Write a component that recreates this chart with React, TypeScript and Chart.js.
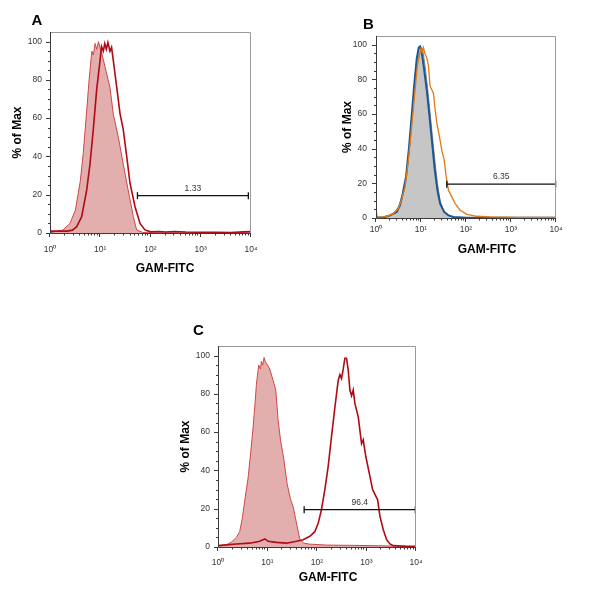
import React, { useEffect, useRef } from 'react';
import { Chart, registerables } from 'chart.js';

Chart.register(...registerables);

// ---------- shared axis data ----------
const X_TICKS = [1, 10, 100, 1000, 10000];
const X_TICK_LABELS = ['10⁰', '10¹', '10²', '10³', '10⁴'];
const Y_TICKS = [0, 20, 40, 60, 80, 100];
const Y_MAX = 105;
const X_TITLE = 'GAM-FITC';
const Y_TITLE = '% of Max';
const GATE_Y = 19.5;

// ---------- Panel A ----------
const A_FILLED_X = [1, 1.8, 2.5, 3.2, 4.0, 4.6, 5.3, 6.0, 6.8, 7.3, 7.9, 8.5, 9.2, 9.9, 10.7, 12.4, 15.6, 18.2, 22.9, 28.7, 36.2, 45.5, 53, 70, 100, 1000, 10000];
const A_FILLED_Y = [0.2, 1.5, 5, 12, 27, 42, 62, 80, 95, 93, 99, 96, 100, 97, 94, 87, 76, 62, 50, 36, 22, 8.5, 1.6, 0.3, 0.1, 0.1, 0.1];
const A_OPEN_X = [1, 1.5, 2.2, 2.8, 3.4, 4.27, 5.38, 6.25, 7.27, 8.5, 9.89, 10.6, 11.5, 12.3, 13.2, 14.2, 15.6, 16.8, 18.2, 21.2, 24.7, 28.7, 33.6, 39.1, 49.2, 61.8, 77.6, 100, 150, 200, 300, 500, 1000, 2000, 4000, 7000, 10000];
const A_OPEN_Y = [1, 1, 1, 1.5, 3.3, 8.5, 22.5, 36, 54, 75, 90, 97.4, 95, 99, 96, 99.5, 95, 97, 90, 76.5, 62.5, 54, 40, 26, 13.7, 5, 1.6, 0.6, 0.8, 0.5, 0.8, 0.5, 0.4, 0.4, 0.3, 0.6, 0.8];
const A_GATE_X = [55, 8850];
const A_GATE_LABEL = '1.33';

// ---------- Panel B ----------
const B_GRAY_X = [1, 1.3, 1.73, 2.43, 3.14, 3.73, 4.42, 4.99, 5.71, 6.55, 7.38, 8.32, 9.22, 10.05, 10.9, 12.3, 13.9, 15.9, 18.3, 20.6, 23.2, 26.6, 31.6, 40.8, 52.7, 80, 200, 1000, 10000];
const B_GRAY_Y = [0, 0.2, 0.6, 2.5, 6.4, 12, 18, 30, 43, 61, 78, 90, 96, 98.4, 97.5, 88, 76, 61, 45, 32, 20, 10, 4.5, 1.5, 0.4, 0.1, 0, 0, 0];
const B_BLUE_X = [1, 1.5, 2.05, 2.89, 3.42, 3.92, 4.66, 5.34, 6.12, 7.02, 8.04, 8.91, 9.55, 10.4, 11.7, 13.4, 15.4, 17.7, 20.2, 23.2, 26.6, 32.7, 40.8, 52.7, 104, 300, 10000];
const B_BLUE_Y = [0.3, 0.5, 1.5, 3.5, 7.4, 14, 24, 39, 57, 76, 92, 98.4, 99, 95.5, 86, 74, 59, 43, 28, 16, 8.3, 3.5, 1.5, 0.6, 0.2, 0.1, 0.1];
const B_ORANGE_X = [1, 1.06, 1.23, 1.73, 2.43, 3.14, 3.73, 4.42, 5.25, 6.22, 7.38, 8.32, 9.22, 9.87, 10.6, 11.3, 12.3, 13.4, 14.6, 15.9, 17.4, 18.9, 20.6, 22.4, 25.7, 29, 32.7, 36.2, 40.8, 48.4, 57.4, 74.2, 104, 174, 345, 1355, 10000];
const B_ORANGE_Y = [4.8, 0.6, 0.5, 1, 2.5, 5.4, 11, 18, 33.5, 53, 74, 88, 93.6, 97.5, 95.5, 98.4, 94.6, 92.6, 88, 76, 74, 72, 62.6, 55, 47, 39, 33.5, 24, 16, 12.2, 8.3, 4.5, 2.1, 1, 0.6, 0.4, 0.4];
const B_GATE_X = [37.4, 9800];
const B_GATE_LABEL = '6.35';

// ---------- Panel C ----------
const C_FILLED_X = [1, 1.48, 1.86, 2.35, 2.74, 3.1, 3.46, 4.05, 4.6, 5.1, 5.6, 5.97, 6.65, 7.2, 7.53, 8.0, 8.53, 9.0, 9.51, 11.1, 13.0, 14.7, 16.4, 18.3, 21.3, 24.9, 29.1, 33, 38.5, 45, 54.2, 71.6, 155, 740, 3470, 10000];
const C_FILLED_Y = [0.7, 1.2, 2.5, 5, 8, 15, 24, 36, 50, 62, 75, 85, 95, 93, 97, 95, 99, 97, 96, 93, 87, 82, 66, 56, 46, 33, 25, 21, 12.5, 4, 2, 1.5, 1, 0.8, 0.5, 0.5];
const C_OPEN_X = [1, 2.35, 4.37, 6.97, 8.8, 10.3, 15.1, 24.1, 38.5, 52.5, 71.6, 90.4, 106, 123, 144, 168, 197, 230, 268, 290, 313, 339, 366, 395, 427, 462, 499, 540, 583, 681, 795, 859, 973, 1137, 1328, 1552, 1676, 1870, 2184, 2549, 2977, 3477, 6000, 10000];
const C_OPEN_Y = [0.7, 1.6, 2, 3, 4.2, 3, 2.4, 2, 3, 3.8, 5.6, 8, 12.5, 19.5, 30, 42, 58, 73, 87, 90, 88, 93, 98.6, 98.6, 92.5, 82, 79, 82, 75, 68, 54, 56, 47, 38.6, 30, 26.4, 24.7, 16, 9, 3.8, 1.6, 0.7, 0.4, 0.3];
const C_GATE_X = [55, 9700];
const C_GATE_LABEL = '96.4';

// ---------- styling ----------
const FONT = 'Arial, "Liberation Sans", Helvetica, sans-serif';
const DARK_RED = '#B00A14';
const PINK_EDGE = '#CF4747';
const PINK_FILL = '#E3AEAE';

const pts = (xs: number[], ys: number[]) => xs.map((x, i) => ({ x, y: ys[i] }));

const gateDataset = (gx: number[]) => ({
  data: pts(gx, [GATE_Y, GATE_Y]),
  borderColor: '#111',
  borderWidth: 1.3,
  pointStyle: 'line',
  pointRotation: 90,
  pointRadius: 3.5,
  pointBorderWidth: 1.3,
  pointBorderColor: '#111',
  fill: false,
  clip: false,
});

const lineDataset = (xs: number[], ys: number[], color: string, width: number) => ({
  data: pts(xs, ys),
  borderColor: color,
  borderWidth: width,
  pointRadius: 0,
  fill: false,
});

const filledDataset = (xs: number[], ys: number[], edge: string, fillColor: string) => ({
  data: pts(xs, ys),
  borderColor: edge,
  borderWidth: 1,
  backgroundColor: fillColor,
  pointRadius: 0,
  fill: 'origin',
});

type Panel = {
  key: string;
  letter: string;
  left: number; top: number; w: number; h: number;
  L: number; R: number; T: number; B: number; // chart area in page coords
  titlePad: number;
  xLabelPad: number;
  yLabelPad: number;
  letterPos: [number, number];
  xTitlePos: [number, number];
  gateX: number[];
  gateLabel: string;
  datasets: any[];
};

const PANELS: Panel[] = [
  {
    key: 'A', letter: 'A', left: 0, top: 0, w: 275, h: 285,
    L: 50, R: 251, T: 32, B: 233, titlePad: 0, xLabelPad: 11.5, yLabelPad: 8,
    letterPos: [31.5, 25], xTitlePos: [165, 272],
    gateX: A_GATE_X, gateLabel: A_GATE_LABEL,
    datasets: [
      gateDataset(A_GATE_X),
      lineDataset(A_OPEN_X, A_OPEN_Y, DARK_RED, 1.6),
      filledDataset(A_FILLED_X, A_FILLED_Y, PINK_EDGE, PINK_FILL),
    ],
  },
  {
    key: 'B', letter: 'B', left: 300, top: 0, w: 280, h: 270,
    L: 376, R: 556, T: 36, B: 218, titlePad: 4, xLabelPad: 7, yLabelPad: 9,
    letterPos: [363, 29.3], xTitlePos: [487, 253],
    gateX: B_GATE_X, gateLabel: B_GATE_LABEL,
    datasets: [
      gateDataset(B_GATE_X),
      lineDataset(B_ORANGE_X, B_ORANGE_Y, '#E27A12', 1.3),
      lineDataset(B_BLUE_X, B_BLUE_Y, '#1D5696', 2),
      filledDataset(B_GRAY_X, B_GRAY_Y, '#8C8C8C', '#C6C6C6'),
    ],
  },
  {
    key: 'C', letter: 'C', left: 160, top: 310, w: 280, h: 280,
    L: 218, R: 416, T: 346, B: 547, titlePad: 0, xLabelPad: 10.5, yLabelPad: 8,
    letterPos: [193, 335], xTitlePos: [328, 580.7],
    gateX: C_GATE_X, gateLabel: C_GATE_LABEL,
    datasets: [
      gateDataset(C_GATE_X),
      lineDataset(C_OPEN_X, C_OPEN_Y, DARK_RED, 1.6),
      filledDataset(C_FILLED_X, C_FILLED_Y, PINK_EDGE, PINK_FILL),
    ],
  },
];

const Y_AXIS_W = 40;

function overlayPlugin(p: Panel) {
  return {
    id: 'overlay' + p.key,
    afterDraw(chart: any) {
      const ctx = chart.ctx as CanvasRenderingContext2D;
      const { left: L, right: R, top: T, bottom: B } = chart.chartArea;
      const xs = chart.scales.x;
      const ys = chart.scales.y;
      ctx.save();
      ctx.lineWidth = 1;
      // frame: light top/right, dark left/bottom
      ctx.strokeStyle = '#9a9a9a';
      ctx.beginPath();
      ctx.moveTo(L, T + 0.5);
      ctx.lineTo(R - 0.5, T + 0.5);
      ctx.lineTo(R - 0.5, B);
      ctx.stroke();
      ctx.strokeStyle = '#3a3a3a';
      ctx.beginPath();
      ctx.moveTo(L + 0.5, T);
      ctx.lineTo(L + 0.5, B + 0.5);
      ctx.lineTo(R, B + 0.5);
      ctx.stroke();
      // y ticks (major every 20, minor every 5)
      ctx.beginPath();
      for (let v = 0; v <= 100; v += 5) {
        const y = Math.round(ys.getPixelForValue(v)) + 0.5;
        const len = v % 20 === 0 ? 4 : 2;
        ctx.moveTo(L - len, y);
        ctx.lineTo(L, y);
      }
      // x ticks (major decades, minor 2..9)
      for (let d = 0; d <= 4; d++) {
        for (let k = 1; k <= 9; k++) {
          const v = k * Math.pow(10, d);
          if (v > 10000) break;
          const x = Math.round(xs.getPixelForValue(v)) - 0.5;
          const len = k === 1 ? 4 : 2.5;
          ctx.moveTo(x, B);
          ctx.lineTo(x, B + len);
        }
      }
      ctx.stroke();

      // gate label
      const gx = (xs.getPixelForValue(p.gateX[0]) + xs.getPixelForValue(p.gateX[1])) / 2;
      const gy = ys.getPixelForValue(GATE_Y);
      ctx.fillStyle = '#333';
      ctx.font = `8.5px ${FONT}`;
      ctx.textAlign = 'center';
      ctx.textBaseline = 'alphabetic';
      ctx.fillText(p.gateLabel, gx, gy - 5);

      // x axis title
      ctx.fillStyle = '#000';
      ctx.font = `bold 12px ${FONT}`;
      ctx.fillText(X_TITLE, p.xTitlePos[0] - p.left, p.xTitlePos[1] - p.top);

      // panel letter
      ctx.textAlign = 'left';
      ctx.font = `bold 15px ${FONT}`;
      ctx.fillText(p.letter, p.letterPos[0] - p.left, p.letterPos[1] - p.top);
      ctx.restore();
    },
  };
}

function buildConfig(p: Panel): any {
  const padLeft = p.L - p.left - Y_AXIS_W;
  const padTop = p.T - p.top;
  const padRight = p.left + p.w - p.R;
  const xHeight = p.top + p.h - p.B;
  return {
    type: 'line',
    data: { datasets: p.datasets },
    options: {
      animation: false,
      responsive: false,
      maintainAspectRatio: false,
      events: [],
      layout: { padding: { left: padLeft, top: padTop, right: padRight, bottom: 0 } },
      plugins: { legend: { display: false }, tooltip: { enabled: false } },
      elements: { line: { tension: 0 }, point: { radius: 0 } },
      scales: {
        x: {
          type: 'logarithmic',
          min: 1,
          max: 10000,
          afterBuildTicks: (s: any) => { s.ticks = X_TICKS.map((v) => ({ value: v, major: true })); },
          afterFit: (s: any) => { s.height = xHeight; },
          grid: { display: false, drawTicks: false },
          border: { display: false },
          ticks: {
            autoSkip: false,
            maxRotation: 0,
            minRotation: 0,
            padding: p.xLabelPad,
            color: '#333',
            font: { family: FONT, size: 8.5 },
            callback: (_v: any, i: number) => X_TICK_LABELS[i],
          },
        },
        y: {
          type: 'linear',
          min: 0,
          max: Y_MAX,
          afterBuildTicks: (s: any) => { s.ticks = Y_TICKS.map((v) => ({ value: v })); },
          afterFit: (s: any) => { s.width = Y_AXIS_W; },
          grid: { display: false, drawTicks: false },
          border: { display: false },
          ticks: {
            padding: p.yLabelPad,
            color: '#333',
            font: { family: FONT, size: 8.5 },
            callback: (v: any) => String(v),
          },
          title: {
            display: true,
            text: Y_TITLE,
            color: '#000',
            font: { family: FONT, size: 12, weight: 'bold' },
            padding: { top: p.titlePad, bottom: 0 },
          },
        },
      },
    },
    plugins: [overlayPlugin(p)],
  };
}

function PanelChart({ p }: { p: Panel }) {
  const ref = useRef<HTMLCanvasElement>(null);
  useEffect(() => {
    const chart = new Chart(ref.current as HTMLCanvasElement, buildConfig(p));
    return () => chart.destroy();
  }, [p]);
  return (
    <div style={{ position: 'absolute', left: p.left, top: p.top, width: p.w, height: p.h }}>
      <canvas ref={ref} width={p.w} height={p.h} style={{ display: 'block', width: p.w, height: p.h }} />
    </div>
  );
}

export default function App() {
  return (
    <div style={{ position: 'absolute', left: 0, top: 0, width: 600, height: 598, background: '#fff', overflow: 'hidden' }}>
      {PANELS.map((p) => (
        <PanelChart key={p.key} p={p} />
      ))}
    </div>
  );
}
